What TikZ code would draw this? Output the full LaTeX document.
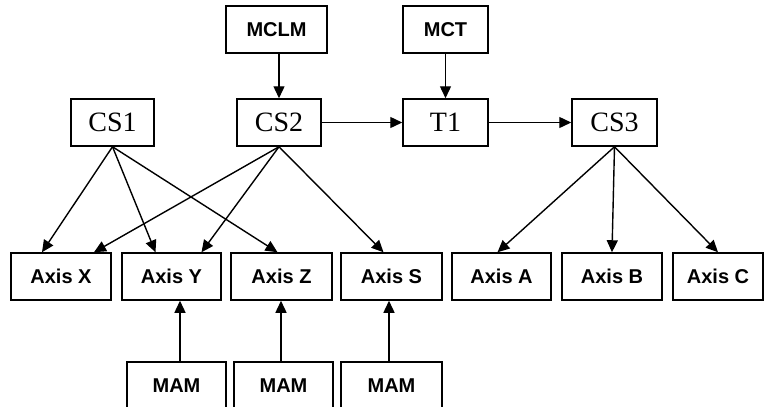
\documentclass[tikz,border=0pt]{standalone}
\usepackage{fontspec}
\setmainfont{Liberation Sans}
\newfontfamily\csfont{Liberation Serif}
\usetikzlibrary{arrows.meta}
\begin{document}
\begin{tikzpicture}[x=1pt,y=-1pt,
    box/.style={draw, line width=1.5pt, inner sep=0pt, minimum height=47pt},
    small/.style={box, font=\fontsize{20}{20}\selectfont\bfseries},
    big/.style={box, font=\csfont\fontsize{28}{28}\selectfont},
    link/.style={line width=1.4pt, -{Triangle[length=12pt,width=11pt]}}]
    \useasboundingbox (0,0) rectangle (764,407);

    % Modules on top
    \node[small, minimum width=101pt] (mclm) at (276.5,29.5) {MCLM};
    \node[small, minimum width=85pt] (mct) at (445.5,29.5) {MCT};

    % Coordinate systems and transform
    \node[big, minimum width=83pt] (cs1) at (112.5,122.5) {CS1};
    \node[big, minimum width=84pt] (cs2) at (279,122.5) {CS2};
    \node[big, minimum width=85pt] (t1) at (445.5,122.5) {T1};
    \node[big, minimum width=85pt] (cs3) at (614.5,122.5) {CS3};

    % Axes
    \node[small, minimum width=100pt] (axx) at (61,276.5) {Axis X};
    \node[small, minimum width=99pt] (axy) at (171.5,276.5) {Axis Y};
    \node[small, minimum width=101pt] (axz) at (281.5,276.5) {Axis Z};
    \node[small, minimum width=101pt] (axs) at (391.5,276.5) {Axis S};
    \node[small, minimum width=99pt] (axa) at (501.5,276.5) {Axis A};
    \node[small, minimum width=100pt] (axb) at (612,276.5) {Axis B};
    \node[small, minimum width=90pt] (axc) at (718,276.5) {Axis C};

    % Axis modules
    \node[small, minimum width=99pt] (mam1) at (176.5,385.5) {MAM};
    \node[small, minimum width=99pt] (mam2) at (283.5,385.5) {MAM};
    \node[small, minimum width=101pt] (mam3) at (391.5,385.5) {MAM};

    % Chain
    \draw[link] (mclm.south -| cs2.north) -- (cs2.north);
    \draw[link] (mct) -- (t1);
    \draw[link] (cs2) -- (t1);
    \draw[link] (t1) -- (cs3);

    % CS1 and CS2 to their axes
    \draw[link] (cs1.south) -- ([xshift=-19pt]axx.north);
    \draw[link] (cs1.south) -- ([xshift=-16pt]axy.north);
    \draw[link] (cs1.south) -- ([xshift=-4pt]axz.north);
    \draw[link] (cs2.south) -- ([xshift=33pt]axx.north);
    \draw[link] (cs2.south) -- ([xshift=30pt]axy.north);
    \draw[link] (cs2.south) -- ([xshift=-8pt]axs.north);

    % CS3 to its axes
    \draw[link] (cs3.south) -- ([xshift=-4pt]axa.north);
    \draw[link] (cs3.south) -- (axb.north);
    \draw[link] (cs3.south) -- (axc.north);

    % MAM up to axes
    \draw[link] ([xshift=3.5pt]mam1.north) -- ([xshift=8.5pt]axy.south);
    \draw[link] ([xshift=-2.5pt]mam2.north) -- ([xshift=-0.5pt]axz.south);
    \draw[link] ([xshift=-2.5pt]mam3.north) -- ([xshift=-2.5pt]axs.south);
\end{tikzpicture}
\end{document}
